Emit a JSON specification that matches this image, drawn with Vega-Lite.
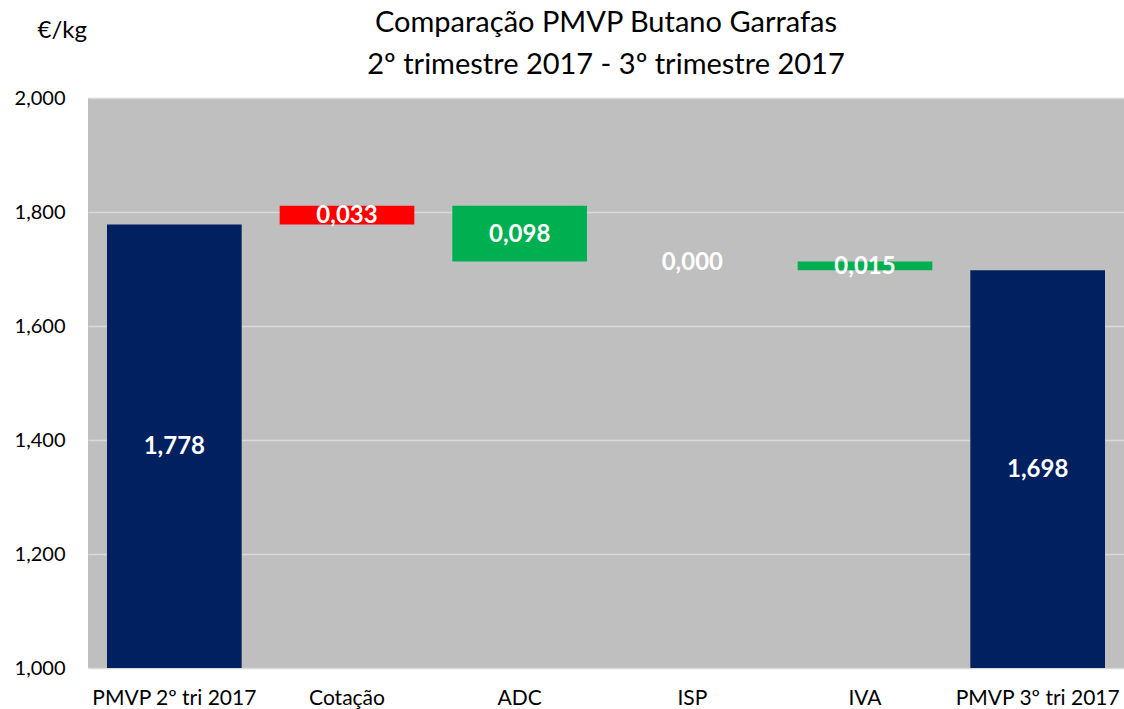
{
  "$schema": "https://vega.github.io/schema/vega-lite/v6.json",
  "autosize": {"type": "none"},
  "width": 1036,
  "height": 570,
  "padding": {"left": 88, "top": 98, "right": 0, "bottom": 41},
  "background": "#ffffff",
  "config": {
    "font": "Lato",
    "view": {"fill": "#bfbfbf", "stroke": null}
  },
  "title": {
    "text": ["Comparação PMVP Butano Garrafas", "2º trimestre 2017 - 3º trimestre 2017"],
    "fontSize": 29,
    "fontWeight": "normal",
    "font": "Lato",
    "color": "#000000",
    "lineHeight": 42,
    "anchor": "middle",
    "offset": -62
  },
  "data": {
    "values": [
      {"cat": "PMVP 2º tri 2017", "start": 1.0, "end": 1.778, "value": 1.778, "kind": "total"},
      {"cat": "Cotação", "start": 1.778, "end": 1.811, "value": 0.033, "kind": "up"},
      {"cat": "ADC", "start": 1.811, "end": 1.713, "value": 0.098, "kind": "down"},
      {"cat": "ISP", "start": 1.713, "end": 1.713, "value": 0.0, "kind": "down"},
      {"cat": "IVA", "start": 1.713, "end": 1.698, "value": 0.015, "kind": "down"},
      {"cat": "PMVP 3º tri 2017", "start": 1.0, "end": 1.698, "value": 1.698, "kind": "total"}
    ]
  },
  "transform": [
    {"calculate": "(datum.start + datum.end) / 2", "as": "mid"},
    {"calculate": "replace(format(datum.value, '.3f'), '.', ',')", "as": "label"}
  ],
  "encoding": {
    "x": {
      "field": "cat",
      "type": "nominal",
      "sort": null,
      "scale": {"paddingInner": 0.22, "paddingOuter": 0.11},
      "axis": {
        "title": null,
        "labelAngle": 0,
        "labelFontSize": 21,
        "labelColor": "#000000",
        "labelFont": "Lato",
        "ticks": false,
        "domain": false,
        "labelPadding": 19
      }
    }
  },
  "layer": [
    {
      "mark": {"type": "bar"},
      "encoding": {
        "y": {
          "field": "start",
          "type": "quantitative",
          "scale": {"domain": [1, 2], "nice": false, "zero": false},
          "axis": {
            "title": "€/kg",
            "titleAngle": 0,
            "titleX": -51,
            "titleY": -68,
            "titleAlign": "left",
            "titleBaseline": "middle",
            "titleFontSize": 24,
            "titleFontWeight": "normal",
            "titleFont": "Lato",
            "titleColor": "#000000",
            "values": [1.0, 1.2, 1.4, 1.6, 1.8, 2.0],
            "labelExpr": "replace(format(datum.value, '.3f'), '.', ',')",
            "labelFontSize": 20,
            "labelColor": "#000000",
            "labelFont": "Lato",
            "labelPadding": 23,
            "ticks": false,
            "domain": false,
            "grid": true,
            "gridColor": "#d9d9d9",
            "gridWidth": 1.5
          }
        },
        "y2": {"field": "end"},
        "color": {
          "field": "kind",
          "type": "nominal",
          "scale": {"domain": ["total", "up", "down"], "range": ["#002060", "#ff0000", "#00b050"]},
          "legend": null
        }
      }
    },
    {
      "mark": {"type": "text", "color": "#ffffff", "fontSize": 24, "fontWeight": "bold", "font": "Lato", "baseline": "middle", "dy": 1},
      "encoding": {
        "y": {"field": "mid", "type": "quantitative"},
        "text": {"field": "label"}
      }
    }
  ]
}
